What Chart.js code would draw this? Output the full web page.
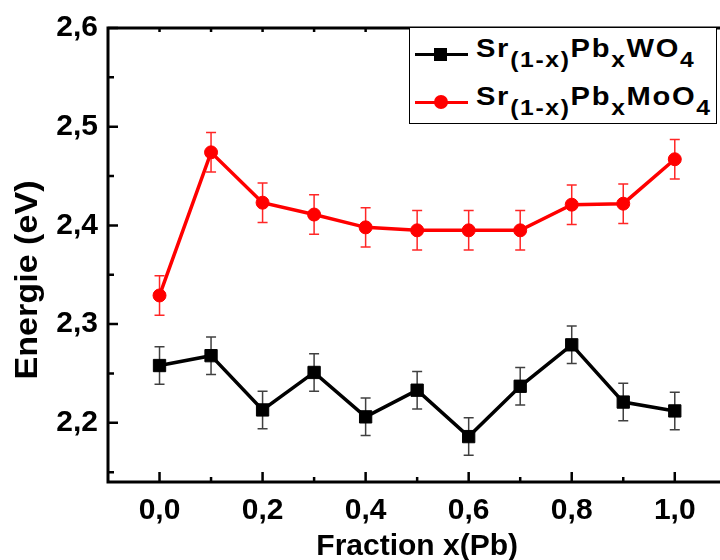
<!DOCTYPE html>
<html>
<head>
<meta charset="utf-8">
<script src="https://cdn.jsdelivr.net/npm/chart.js@4.4.1/dist/chart.umd.min.js"></script>
<style>
  html, body { margin: 0; padding: 0; background: #fff; overflow: hidden; }
  #wrap { position: relative; width: 736px; height: 560px; }
  #legend {
    position: absolute; left: 409px; top: 27px; width: 306px; height: 95px;
    border: 1px solid #000; background: #fff;
    font-family: "Liberation Sans", Arial, sans-serif; font-weight: bold; font-size: 26px;
  }
  .item { position: absolute; left: 0; width: 100%; height: 48px; }
  .sample { position: absolute; left: 5px; width: 53px; height: 3px; top: 23px; }
  .mark { position: absolute; }
  .label {
    position: absolute; left: 66px; line-height: 26px; white-space: nowrap;
    letter-spacing: 1.5px; transform: scaleX(1.12); transform-origin: left center;
  }
  .label sub { font-size: 22px; vertical-align: -10px; line-height: 0; }
</style>
</head>
<body>
<div id="wrap">
  <canvas id="myChart" width="736" height="560"></canvas>
  <div id="legend">
    <div class="item" style="top:2px">
      <div class="sample" style="background:#000"></div>
      <div class="mark" style="left:24px;top:18px;width:13px;height:13px;background:#000"></div>
      <div class="label" style="top:5px">Sr<sub>(1-x)</sub>Pb<sub>x</sub>WO<sub>4</sub></div>
    </div>
    <div class="item" style="top:50px">
      <div class="sample" style="background:#ff0000"></div>
      <div class="mark" style="left:24px;top:17px;width:14px;height:14px;border-radius:50%;background:#ff0000"></div>
      <div class="label" style="top:5px">Sr<sub>(1-x)</sub>Pb<sub>x</sub>MoO<sub>4</sub></div>
    </div>
  </div>
</div>
<script>
const fractions = [0.0, 0.1, 0.2, 0.3, 0.4, 0.5, 0.6, 0.7, 0.8, 0.9, 1.0];
const wo4Energy = [2.258, 2.268, 2.213, 2.251, 2.206, 2.233, 2.186, 2.237, 2.279, 2.221, 2.212];
const wo4Error = [0.019, 0.019, 0.019, 0.019, 0.019, 0.019, 0.019, 0.019, 0.019, 0.019, 0.019];
const moo4Energy = [2.329, 2.474, 2.423, 2.411, 2.398, 2.395, 2.395, 2.395, 2.421, 2.422, 2.467];
const moo4Error = [0.02, 0.02, 0.02, 0.02, 0.02, 0.02, 0.02, 0.02, 0.02, 0.02, 0.02];

const xTickValues = [0.0, 0.2, 0.4, 0.6, 0.8, 1.0];
const xTickLabels = ["0,0", "0,2", "0,4", "0,6", "0,8", "1,0"];
const xMinorTicks = [0.1, 0.3, 0.5, 0.7, 0.9];
const yTickValues = [2.2, 2.3, 2.4, 2.5, 2.6];
const yTickLabels = ["2,2", "2,3", "2,4", "2,5", "2,6"];
const yMinorTicks = [2.15, 2.25, 2.35, 2.45, 2.55];

const xTitle = "Fraction x(Pb)";
const yTitle = "Energie (eV)";
const FONT = '"Liberation Sans", Arial, sans-serif';

// frame, inward ticks, error bars and axis titles
const decor = {
  id: "decor",
  beforeDatasetsDraw(chart) {
    const { ctx } = chart;
    const xs = chart.scales.x, ys = chart.scales.y;
    const drawErr = (vals, errs, color) => {
      ctx.save();
      ctx.strokeStyle = color;
      ctx.lineWidth = 1.5;
      vals.forEach((v, i) => {
        const px = xs.getPixelForValue(fractions[i]);
        const top = ys.getPixelForValue(v + errs[i]);
        const bot = ys.getPixelForValue(v - errs[i]);
        ctx.beginPath();
        ctx.moveTo(px, top); ctx.lineTo(px, bot);
        ctx.moveTo(px - 5, top); ctx.lineTo(px + 5, top);
        ctx.moveTo(px - 5, bot); ctx.lineTo(px + 5, bot);
        ctx.stroke();
      });
      ctx.restore();
    };
    drawErr(wo4Energy, wo4Error, "rgba(0,0,0,0.75)");
    drawErr(moo4Energy, moo4Error, "rgba(255,0,0,0.85)");
  },
  afterDraw(chart) {
    const { ctx, chartArea: a } = chart;
    const xs = chart.scales.x, ys = chart.scales.y;
    ctx.save();
    ctx.strokeStyle = "#000";
    ctx.lineWidth = 3;
    ctx.beginPath();
    ctx.moveTo(a.left, a.top - 1.5); ctx.lineTo(a.left, a.bottom + 1.5);
    ctx.moveTo(a.left - 1.5, a.bottom); ctx.lineTo(a.right, a.bottom);
    ctx.moveTo(a.left - 1.5, a.top); ctx.lineTo(a.right, a.top);
    ctx.stroke();

    ctx.lineWidth = 2.5;
    ctx.beginPath();
    xTickValues.forEach(v => {
      const p = xs.getPixelForValue(v);
      ctx.moveTo(p, a.bottom); ctx.lineTo(p, a.bottom - 10);
      ctx.moveTo(p, a.top); ctx.lineTo(p, a.top + 4);
    });
    xMinorTicks.forEach(v => {
      const p = xs.getPixelForValue(v);
      ctx.moveTo(p, a.bottom); ctx.lineTo(p, a.bottom - 5);
      ctx.moveTo(p, a.top); ctx.lineTo(p, a.top + 4);
    });
    yTickValues.forEach(v => {
      const p = ys.getPixelForValue(v);
      ctx.moveTo(a.left, p); ctx.lineTo(a.left + 10, p);
    });
    yMinorTicks.forEach(v => {
      const p = ys.getPixelForValue(v);
      ctx.moveTo(a.left, p); ctx.lineTo(a.left + 6, p);
    });
    ctx.stroke();

    ctx.fillStyle = "#000";
    ctx.font = "bold 30px " + FONT;
    ctx.textAlign = "center";
    ctx.textBaseline = "alphabetic";
    ctx.fillText(xTitle, (a.left + a.right) / 2, 555);
    ctx.font = "bold 31px " + FONT;
    ctx.translate(37, 280);
    ctx.rotate(-Math.PI / 2);
    ctx.scale(1.1, 1);
    ctx.fillText(yTitle, 0, 0);
    ctx.restore();
  }
};

const ctx = document.getElementById("myChart").getContext("2d");

new Chart(ctx, {
  type: "line",
  data: {
    datasets: [
      {
        label: "Sr(1-x)PbxWO4",
        data: fractions.map((x, i) => ({ x: x, y: wo4Energy[i] })),
        borderColor: "#000",
        backgroundColor: "#000",
        borderWidth: 3.5,
        pointStyle: "rect",
        pointRadius: 8.7,
        pointBorderWidth: 1,
        tension: 0,
      },
      {
        label: "Sr(1-x)PbxMoO4",
        data: fractions.map((x, i) => ({ x: x, y: moo4Energy[i] })),
        borderColor: "#ff0000",
        backgroundColor: "#ff0000",
        borderWidth: 3.5,
        pointStyle: "circle",
        pointRadius: 6.5,
        pointBorderWidth: 1,
        tension: 0,
      },
    ],
  },
  options: {
    responsive: false,
    animation: false,
    layout: { padding: { top: 22, right: 8, left: 0, bottom: 0 } },
    plugins: {
      legend: { display: false },
      tooltip: { enabled: false },
    },
    scales: {
      x: {
        type: "linear",
        min: -0.1,
        max: 1.1,
        grid: { display: false, drawTicks: false },
        border: { display: false },
        afterFit: (s) => { s.height = 78; },
        afterBuildTicks: (s) => { s.ticks = xTickValues.map(v => ({ value: v })); },
        ticks: {
          padding: 11,
          color: "#000",
          font: { family: FONT, size: 30, weight: "bold" },
          callback: (v, i) => xTickLabels[i],
        },
      },
      y: {
        min: 2.14,
        max: 2.6,
        grid: { display: false, drawTicks: false },
        border: { display: false },
        afterFit: (s) => { s.width = 108; },
        afterBuildTicks: (s) => { s.ticks = yTickValues.map(v => ({ value: v })); },
        ticks: {
          padding: 10,
          color: "#000",
          font: { family: FONT, size: 30, weight: "bold" },
          callback: (v, i) => yTickLabels[i],
        },
      },
    },
  },
  plugins: [decor],
});
</script>
</body>
</html>
